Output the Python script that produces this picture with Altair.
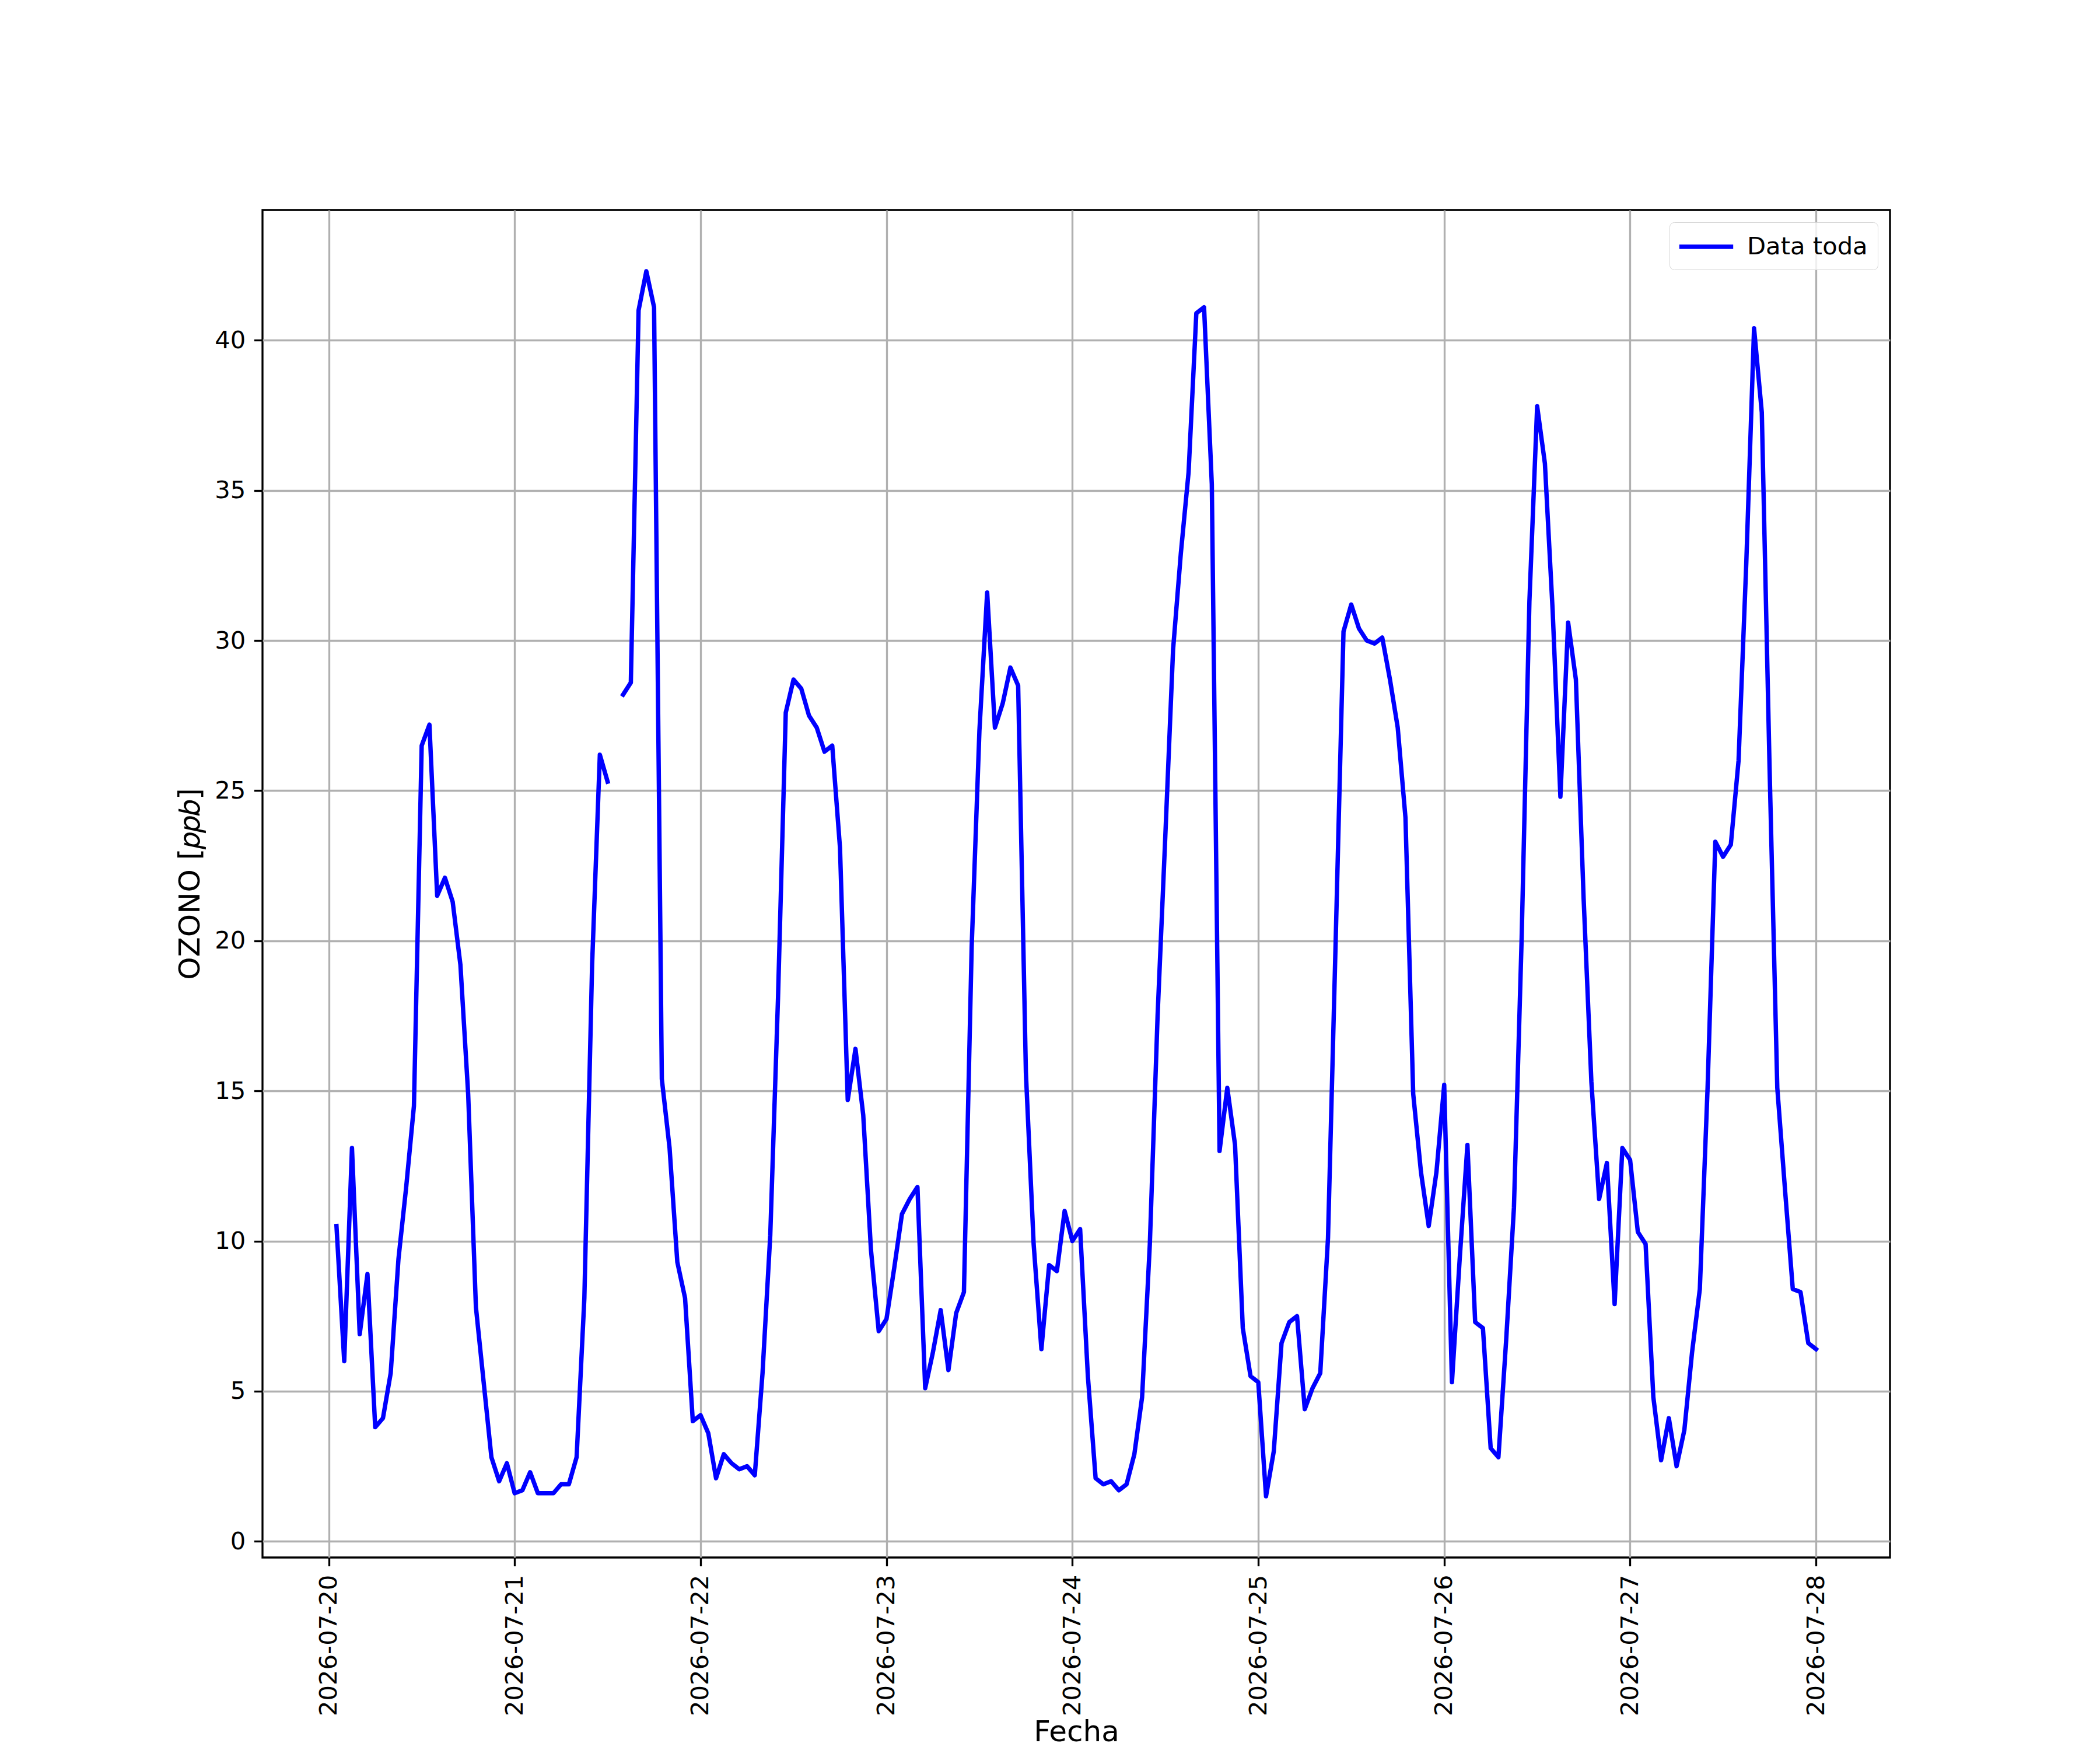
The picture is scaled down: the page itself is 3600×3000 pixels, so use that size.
import altair as alt
import pandas as pd

# Ozono horario [ppb], del 2026-07-20 01:00 al 2026-07-28 00:00 (None = dato faltante)
DIA_20 = [10.5, 6.0, 13.1, 6.9, 8.9, 3.8, 4.1, 5.6, 9.4, 11.8, 14.5, 26.5,
          27.2, 21.5, 22.1, 21.3, 19.2, 14.9, 7.8, 5.3, 2.8, 2.0, 2.6]
DIA_21 = [1.6, 1.7, 2.3, 1.6, 1.6, 1.6, 1.9, 1.9, 2.8, 8.1, 19.2, 26.2,
          25.3, None, 28.2, 28.6, 41.0, 42.3, 41.1, 15.4, 13.1, 9.3, 8.1, 4.0]
DIA_22 = [4.2, 3.6, 2.1, 2.9, 2.6, 2.4, 2.5, 2.2, 5.6, 10.2, 18.1, 27.6,
          28.7, 28.4, 27.5, 27.1, 26.3, 26.5, 23.1, 14.7, 16.4, 14.2, 9.7, 7.0]
DIA_23 = [7.4, 9.1, 10.9, 11.4, 11.8, 5.1, 6.3, 7.7, 5.7, 7.6, 8.3, 19.8,
          27.0, 31.6, 27.1, 27.9, 29.1, 28.5, 15.6, 9.9, 6.4, 9.2, 9.0, 11.0]
DIA_24 = [10.0, 10.4, 5.5, 2.1, 1.9, 2.0, 1.7, 1.9, 2.9, 4.8, 9.9, 17.5,
          23.5, 29.7, 32.9, 35.6, 40.9, 41.1, 35.2, 13.0, 15.1, 13.2, 7.1, 5.5]
DIA_25 = [5.3, 1.5, 3.0, 6.6, 7.3, 7.5, 4.4, 5.1, 5.6, 10.1, 20.1, 30.3,
          31.2, 30.4, 30.0, 29.9, 30.1, 28.7, 27.1, 24.1, 14.9, 12.3, 10.5, 12.3]
DIA_26 = [15.2, 5.3, 9.4, 13.2, 7.3, 7.1, 3.1, 2.8, 6.7, 11.1, 20.1, 31.3,
          37.8, 35.9, 31.0, 24.8, 30.6, 28.7, 21.4, 15.3, 11.4, 12.6, 7.9, 13.1]
DIA_27 = [12.7, 10.3, 9.9, 4.8, 2.7, 4.1, 2.5, 3.7, 6.3, 8.4, 15.1, 23.3,
          22.8, 23.2, 26.0, 32.6, 40.4, 37.6, 25.8, 15.1, 11.7, 8.4, 8.3, 6.6]
DIA_28 = [6.4]

FECHA_INICIO = "2026-07-20 01:00"
SERIE = "Data toda"
DIAS_TICKS = [20, 21, 22, 23, 24, 25, 26, 27, 28]
Y_TICKS = [0, 5, 10, 15, 20, 25, 30, 35, 40]

valores = DIA_20 + DIA_21 + DIA_22 + DIA_23 + DIA_24 + DIA_25 + DIA_26 + DIA_27 + DIA_28
fechas = pd.date_range(FECHA_INICIO, periods=len(valores), freq="h")
df = pd.DataFrame({"fecha": fechas, "ozono": valores})
df["tramo"] = df["ozono"].isna().cumsum()
df = df.dropna().copy()
df["serie"] = SERIE
df["fecha"] = df["fecha"].dt.strftime("%Y-%m-%dT%H:%M:%S")

FONT = "DejaVu Sans"
LW = 3.33
LINE_W = 7.5

dom_x = [alt.DateTime(year=2026, month=7, date=19, hours=15, minutes=27),
         alt.DateTime(year=2026, month=7, date=28, hours=9, minutes=33)]
ticks_x = [alt.DateTime(year=2026, month=7, date=d) for d in DIAS_TICKS]

chart = alt.Chart(df).mark_line(
    strokeWidth=LINE_W, strokeJoin="round", strokeCap="square", clip=True
).encode(
    x=alt.X("fecha:T", title="Fecha",
            scale=alt.Scale(domain=dom_x, nice=False),
            axis=alt.Axis(values=ticks_x, format="%Y-%m-%d", labelAngle=270,
                          labelOverlap=False, labelFlush=False,
                          titleY=314, titleBaseline="alphabetic")),
    y=alt.Y("ozono:Q", title="OZONO [𝑝𝑝𝑏]",
            scale=alt.Scale(domain=[-0.54, 44.34], nice=False, zero=False),
            axis=alt.Axis(values=Y_TICKS, labelOverlap=False, labelFlush=False,
                          titlePadding=16)),
    color=alt.Color("serie:N", scale=alt.Scale(range=["#0000ff"]),
                    legend=alt.Legend(title=None, orient="top-right", offset=21,
                                      symbolType="M-2.2,0H2.2", symbolSize=1764,
                                      symbolOffset=21,
                                      symbolStrokeWidth=LINE_W, labelFont=FONT,
                                      labelFontSize=41.7, labelColor="black",
                                      labelOffset=45, labelLimit=0, padding=17,
                                      strokeColor="#d6d6d6",
                                      fillColor="rgba(255,255,255,0.8)",
                                      cornerRadius=8)),
    detail="tramo:N",
).properties(
    width=2790, height=2310,
    autosize=alt.AutoSizeParams(type="none"),
    padding={"left": 442, "top": 352, "right": 350, "bottom": 330},
    background="white",
).configure_view(
    stroke="black", strokeWidth=LW
).configure_axis(
    labelFont=FONT, labelFontSize=41.7, labelColor="black", labelLimit=0,
    titleFont=FONT, titleFontSize=50, titleFontWeight="normal", titleColor="black",
    tickColor="black", tickWidth=LW, tickSize=14.6, labelPadding=14.6,
    domain=False, gridColor="#b0b0b0", gridWidth=LW, gridOpacity=1,
)

chart.save("out.html", embed_options={"renderer": "svg", "actions": False})
